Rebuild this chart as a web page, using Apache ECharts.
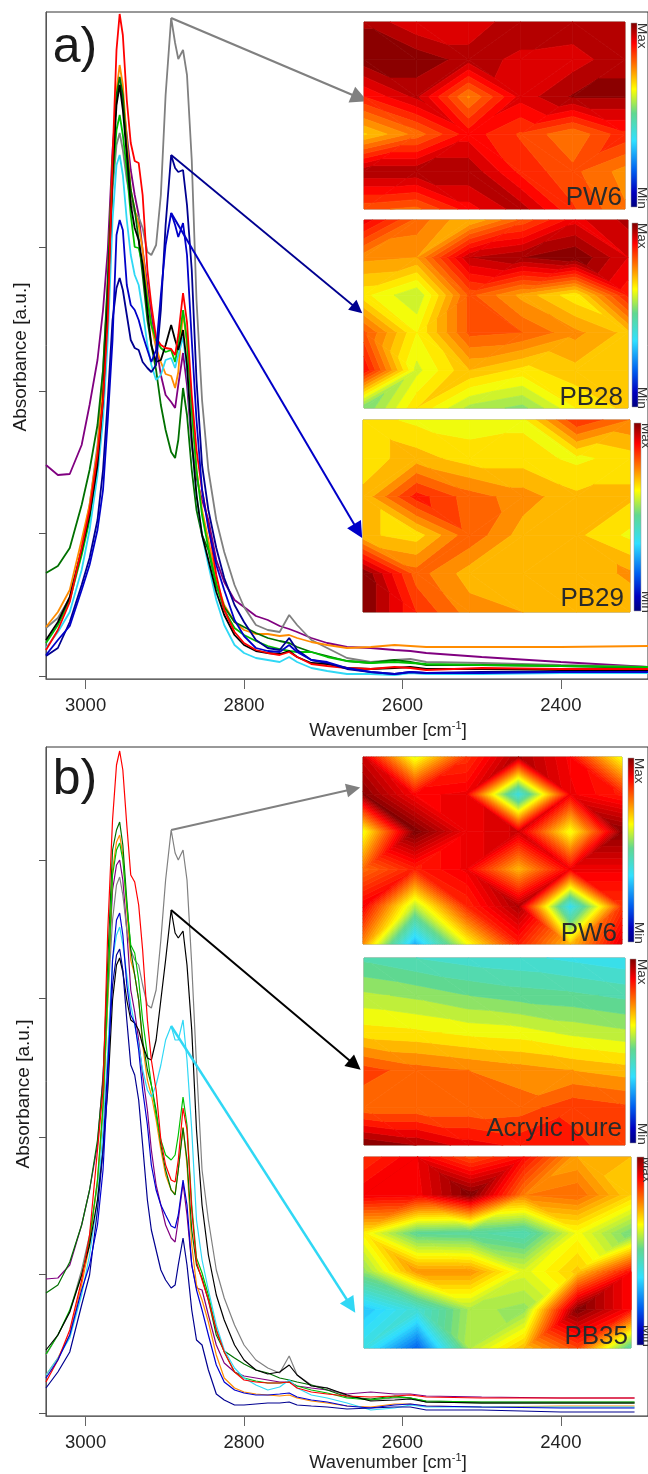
<!DOCTYPE html>
<html lang="en" style="height: 100%">

<head>
  <meta charset="utf-8" />
  <script src="https://cdn.jsdelivr.net/npm/echarts@6/dist/echarts.min.js"></script>
</head>

<body style="height: 100%; margin: 0; background: #fff">
  <div id="container" style="width: 648px; height: 1474px"></div>

  <script type="text/javascript">
    // wavenumbers [cm-1] the spectra were read at
    const wavenumbersA = [3050, 3035, 3020, 3005, 2995, 2985, 2978, 2972, 2966, 2961, 2957, 2953, 2948, 2943, 2938, 2933, 2928, 2922, 2917, 2911, 2905, 2899, 2892, 2887, 2883, 2877, 2872, 2866, 2860, 2853, 2845, 2835, 2825, 2812, 2800, 2785, 2770, 2755, 2743, 2733, 2715, 2695, 2670, 2640, 2610, 2590, 2570, 2500, 2400, 2290];
    const wavenumbersB = [3050, 3035, 3020, 3005, 2995, 2985, 2978, 2972, 2966, 2961, 2957, 2953, 2948, 2943, 2938, 2933, 2928, 2922, 2917, 2911, 2905, 2899, 2892, 2887, 2883, 2877, 2872, 2866, 2860, 2853, 2845, 2835, 2825, 2812, 2800, 2785, 2770, 2755, 2743, 2733, 2715, 2695, 2670, 2640, 2610, 2590, 2570, 2500, 2400, 2307];

    // panel a) absorbance, arbitrary units
    const redA = [26, 46, 74, 128, 166, 221, 276, 356, 516, 626, 662, 641, 576, 533, 515, 513, 481, 406, 371, 338, 331, 328, 327, 321, 341, 383, 354, 281, 226, 186, 151, 101, 66, 44, 33, 26, 23, 21, 24, 19, 12, 10, 8, 7, 9, 8, 6, 8, 7, 7];
    const orangeA = [49, 64, 86, 136, 171, 226, 296, 396, 516, 586, 611, 591, 536, 486, 466, 451, 426, 381, 351, 328, 314, 302, 300, 288, 304, 364, 331, 266, 206, 166, 136, 96, 71, 54, 46, 42, 42, 40, 41, 38, 34, 31, 28, 29, 31, 30, 29, 29, 29, 30];
    const darkGreenA = [103, 110, 128, 171, 206, 251, 306, 396, 516, 581, 599, 581, 526, 486, 466, 436, 401, 356, 331, 306, 271, 246, 224, 218, 236, 288, 261, 206, 166, 141, 126, 91, 69, 54, 49, 43, 38, 35, 33, 29, 24, 20, 15, 13, 16, 14, 11, 11, 10, 8];
    const purpleA = [211, 201, 202, 231, 271, 316, 366, 426, 526, 576, 591, 576, 541, 506, 481, 461, 426, 391, 361, 331, 301, 281, 274, 268, 291, 323, 291, 231, 198, 176, 156, 116, 94, 76, 69, 60, 56, 50, 47, 44, 38, 33, 29, 28, 26, 25, 23, 19, 14, 9];
    const greenA = [33, 51, 76, 121, 156, 211, 276, 376, 496, 546, 561, 541, 506, 461, 429, 428, 411, 376, 351, 336, 328, 324, 326, 314, 331, 366, 336, 266, 206, 161, 128, 91, 66, 48, 41, 35, 30, 27, 25, 24, 24, 19, 15, 13, 14, 13, 12, 11, 10, 9];
    const greyA = [48, 58, 78, 126, 171, 231, 306, 386, 486, 531, 543, 526, 496, 476, 463, 459, 448, 424, 421, 431, 481, 581, 658, 633, 617, 626, 601, 516, 376, 276, 206, 156, 124, 91, 69, 51, 46, 44, 61, 51, 36, 28, 18, 14, 16, 17, 14, 13, 11, 9];
    const cyanA = [28, 44, 64, 106, 146, 201, 256, 336, 456, 511, 521, 501, 456, 421, 401, 391, 366, 331, 311, 296, 301, 316, 318, 308, 321, 339, 306, 236, 181, 141, 111, 76, 51, 31, 23, 18, 16, 14, 19, 14, 8, 5, 2, 2, 1, 3, 2, 2, 3, 3];
    const blackA = [36, 54, 79, 126, 161, 211, 276, 376, 501, 571, 591, 566, 521, 471, 448, 436, 411, 366, 331, 314, 316, 331, 351, 336, 326, 346, 311, 236, 181, 141, 116, 84, 61, 41, 31, 25, 23, 22, 25, 19, 13, 12, 8, 7, 8, 9, 7, 7, 6, 6];
    const blueA = [21, 36, 50, 86, 111, 146, 186, 256, 336, 441, 456, 446, 391, 371, 366, 356, 341, 326, 314, 326, 381, 431, 463, 451, 439, 453, 421, 336, 256, 186, 148, 111, 86, 56, 40, 28, 25, 24, 31, 24, 16, 14, 8, 4, 2, 4, 3, 3, 4, 4];
    const navyA = [20, 28, 54, 91, 118, 156, 206, 276, 356, 388, 398, 386, 361, 336, 328, 326, 314, 308, 304, 311, 366, 451, 521, 508, 504, 506, 471, 406, 296, 211, 166, 128, 98, 71, 54, 36, 28, 26, 38, 26, 16, 13, 7, 4, 2, 4, 3, 4, 4, 4];

    // panel b)
    const redB = [31, 53, 83, 133, 178, 263, 323, 483, 593, 648, 662, 643, 588, 538, 531, 508, 463, 393, 353, 323, 273, 248, 233, 231, 253, 305, 283, 203, 151, 133, 113, 83, 61, 41, 33, 31, 30, 30, 31, 25, 21, 19, 17, 16, 17, 18, 16, 15, 15, 15];
    const darkGreenB = [120, 128, 151, 188, 223, 273, 333, 453, 563, 583, 591, 568, 513, 463, 438, 413, 373, 343, 328, 303, 268, 243, 223, 218, 243, 285, 253, 183, 148, 135, 113, 78, 62, 55, 49, 43, 40, 35, 33, 31, 28, 23, 16, 14, 17, 15, 11, 10, 10, 10];
    const orangeB = [38, 55, 78, 128, 168, 233, 303, 413, 543, 571, 578, 558, 503, 453, 438, 413, 368, 333, 318, 293, 263, 238, 223, 219, 243, 286, 248, 168, 128, 113, 91, 58, 35, 25, 21, 19, 18, 17, 18, 15, 12, 10, 7, 6, 9, 9, 7, 6, 7, 7];
    const greenB = [59, 78, 103, 138, 173, 233, 308, 423, 538, 563, 570, 553, 508, 468, 460, 433, 393, 358, 328, 298, 273, 258, 253, 258, 278, 316, 288, 208, 155, 140, 118, 83, 61, 41, 35, 32, 30, 30, 31, 27, 23, 20, 15, 13, 16, 15, 12, 11, 11, 11];
    const purpleB = [134, 135, 148, 188, 223, 268, 338, 428, 523, 548, 553, 533, 483, 423, 401, 373, 338, 303, 263, 228, 208, 188, 175, 171, 193, 230, 198, 148, 125, 123, 98, 68, 50, 41, 37, 35, 33, 31, 31, 27, 25, 23, 19, 21, 19, 19, 17, 16, 15, 15];
    const greyB = [58, 78, 101, 143, 178, 228, 303, 413, 493, 528, 536, 518, 483, 463, 453, 448, 428, 408, 405, 423, 473, 533, 583, 560, 553, 563, 533, 448, 348, 243, 193, 143, 115, 88, 68, 53, 45, 40, 57, 38, 28, 25, 17, 13, 15, 15, 12, 11, 11, 11];
    const blackB = [63, 78, 101, 138, 168, 213, 263, 323, 413, 448, 455, 441, 413, 393, 390, 383, 368, 355, 353, 373, 413, 453, 503, 480, 475, 482, 448, 383, 283, 208, 158, 118, 93, 68, 53, 43, 39, 41, 48, 38, 27, 25, 18, 12, 13, 14, 11, 10, 10, 10];
    const blueB = [35, 53, 78, 123, 148, 188, 243, 333, 453, 493, 500, 478, 428, 398, 390, 363, 323, 288, 248, 223, 208, 198, 187, 185, 198, 233, 208, 148, 123, 103, 78, 48, 31, 23, 20, 18, 18, 19, 20, 16, 13, 11, 7, 5, 8, 9, 7, 6, 5, 5];
    const cyanB = [38, 55, 75, 118, 158, 213, 283, 363, 453, 478, 486, 468, 438, 408, 388, 368, 343, 323, 316, 328, 348, 373, 387, 373, 373, 393, 353, 283, 193, 153, 123, 88, 63, 45, 35, 28, 23, 26, 33, 25, 18, 15, 10, 3, 5, 8, 6, 6, 6, 6];
    const navyB = [25, 41, 61, 108, 138, 203, 263, 348, 428, 458, 464, 443, 393, 348, 338, 313, 268, 213, 183, 163, 143, 133, 125, 128, 148, 175, 148, 103, 73, 68, 43, 19, 13, 8, 8, 9, 10, 10, 11, 8, 7, 6, 4, 5, 6, 6, 3, 3, 1, 1];

    const xTicks = [3000, 2800, 2600, 2400];
    const yTicksA = [0, 143, 285, 429];
    const yTicksB = [0, 139, 276, 415, 553];

    // arrows: [from wavenumber, from height, to wavenumber, to height]
    const arrowGreyA = [2892, 658, 2654, 578];
    const arrowNavyA = [2892, 521, 2657, 367];
    const arrowBlueA = [2892, 463, 2656, 145];
    const arrowGreyB = [2892, 583, 2662, 624];
    const arrowBlackB = [2892, 503, 2660, 348];
    const arrowCyanB = [2892, 387, 2665, 107];

    // mapped intensity at the 6 x 6 measuring points, 0 = Min, 100 = Max, top row first
    const mapPW6A = [
      [96, 90, 90, 96, 96, 96],
      [99, 99, 95, 92, 91, 96],
      [86, 94, 75, 91, 97, 97],
      [68, 77, 88, 82, 76, 85],
      [96, 96, 96, 85, 80, 74],
      [80, 78, 88, 95, 83, 76]
    ];
    const mapPB28 = [
      [90, 78, 70, 80, 90, 95],
      [74, 73, 94, 97, 100, 91],
      [65, 58, 80, 72, 65, 86],
      [80, 64, 80, 79, 74, 69],
      [88, 60, 70, 66, 69, 69],
      [52, 67, 57, 54, 64, 68]
    ];
    const mapPB29 = [
      [66, 63, 62, 63, 84, 76],
      [66, 70, 66, 66, 63, 66],
      [69, 86, 78, 74, 69, 69],
      [69, 66, 79, 70, 69, 63],
      [100, 78, 70, 69, 69, 73],
      [100, 84, 74, 72, 70, 69]
    ];
    const mapPW6B = [
      [93, 62, 84, 96, 89, 63],
      [99, 89, 90, 40, 90, 86],
      [63, 100, 90, 93, 63, 99],
      [78, 86, 90, 71, 90, 90],
      [90, 58, 85, 96, 38, 84],
      [75, 30, 63, 86, 70, 92]
    ];
    const mapAcrylic = [
      [47, 44, 42, 41, 39, 37],
      [57, 55, 52, 50, 49, 47],
      [66, 65, 63, 62, 59, 57],
      [82, 78, 76, 74, 72, 70],
      [77, 77, 77, 78, 83, 81],
      [100, 96, 90, 87, 85, 82]
    ];
    const mapPB35 = [
      [84, 90, 81, 88, 72, 70],
      [90, 89, 100, 76, 78, 68],
      [65, 50, 49, 46, 63, 52],
      [55, 74, 74, 61, 69, 88],
      [32, 42, 57, 55, 100, 88],
      [40, 20, 58, 70, 82, 48]
    ];

    const font = "Liberation Sans";
    const colorStops = [
      { offset: 0, color: "#7f0000" },
      { offset: 0.11, color: "#ff0000" },
      { offset: 0.24, color: "#ff8000" },
      { offset: 0.36, color: "#ffff00" },
      { offset: 0.49, color: "#60d890" },
      { offset: 0.64, color: "#30e0ff" },
      { offset: 0.8, color: "#0060f0" },
      { offset: 0.92, color: "#0000c0" },
      { offset: 1, color: "#00007f" },
    ];

    function mapColor(v) {
      var t = Math.max(0, Math.min(1, 1 - v / 100));
      for (var i = 1; i < colorStops.length; i++) {
        if (t <= colorStops[i].offset) {
          var a = colorStops[i - 1], b = colorStops[i];
          var k = (t - a.offset) / (b.offset - a.offset);
          return echarts.color.lerp(k, [a.color, b.color]);
        }
      }
      return colorStops[colorStops.length - 1].color;
    }

    // keep the part of a triangle/polygon (points are [col, row, value]) on one side of a level
    function clipLevel(poly, level, above) {
      var out = [];
      for (var i = 0; i < poly.length; i++) {
        var p = poly[i], q = poly[(i + 1) % poly.length];
        var pIn = above ? p[2] >= level : p[2] <= level;
        var qIn = above ? q[2] >= level : q[2] <= level;
        if (pIn) out.push(p);
        if (pIn !== qIn) {
          var k = (level - p[2]) / (q[2] - p[2]);
          out.push([p[0] + (q[0] - p[0]) * k, p[1] + (q[1] - p[1]) * k, level]);
        }
      }
      return out;
    }

    // lower is better: a diagonal along a ridge with little change along it
    function diagonalCost(p, q) {
      return Math.abs(p[2] - q[2]) - (p[2] + q[2]) * 0.25;
    }

    function renderCell(step) {
      return function (params, api) {
        var c = api.value(0), r = api.value(1);
        var a = [c, r, api.value(2)], b = [c + 1, r, api.value(3)];
        var d = [c, r + 1, api.value(4)], e = [c + 1, r + 1, api.value(5)];
        var tris = diagonalCost(a, e) < diagonalCost(b, d)
          ? [[a, b, e], [a, e, d]]
          : [[a, b, d], [b, e, d]];
        var children = [];
        tris.forEach(function (tri) {
          for (var hi = 100; hi > 0; hi -= step) {
            var lo = hi - step;
            var poly = clipLevel(clipLevel(tri, lo, true), hi, false);
            if (poly.length < 3) continue;
            var color = mapColor(lo + step * 0.7);
            children.push({
              type: "polygon",
              shape: { points: poly.map(function (p) { return api.coord([p[0], p[1]]); }) },
              style: { fill: color, stroke: color, lineWidth: 0.7 },
            });
          }
        });
        return { type: "group", children: children };
      };
    }

    var grids = [], xAxes = [], yAxes = [], series = [], graphics = [];

    function addPanel(top, height, yMax, yTicks, lines, xs, lineWidth) {
      var idx = grids.length;
      grids.push({ left: 46, top: top, width: 603, height: height, show: true, borderColor: "#333", borderWidth: 1 });
      xAxes.push({
        type: "value", gridIndex: idx, inverse: true, min: 2290, max: 3050,
        axisLine: { show: true, onZero: false, lineStyle: { color: "#666", width: 1.2 } },
        axisTick: { show: true, length: 10, customValues: xTicks, lineStyle: { color: "#666" } },
        axisLabel: {
          customValues: xTicks, formatter: function (v) { return String(v); },
          fontFamily: font, fontSize: 18.5, color: "#222", margin: 17,
        },
        splitLine: { show: false },
      });
      yAxes.push({
        type: "value", gridIndex: idx, min: -3, max: yMax,
        axisLine: { show: true, onZero: false, lineStyle: { color: "#555" } },
        axisTick: { show: true, length: 7, customValues: yTicks, lineStyle: { color: "#555" } },
        axisLabel: { show: false },
        splitLine: { show: false },
      });
      lines.forEach(function (l, i) {
        var s = {
          type: "line", xAxisIndex: idx, yAxisIndex: idx, showSymbol: false, silent: true,
          data: l.values.map(function (v, k) { return [xs[k], v]; }),
          lineStyle: { color: l.color, width: lineWidth }, z: 3 + i * 0.01,
          animation: false,
        };
        if (l.arrow) {
          s.markLine = {
            silent: true, animation: false, symbol: ["none", "triangle"], symbolSize: l.arrowSize,
            label: { show: false },
            lineStyle: { color: l.color, width: l.arrowWidth, type: "solid" },
            data: [[
              { coord: [l.arrow[0], l.arrow[1]] },
              { coord: [l.arrow[2], l.arrow[3]] },
            ]],
          };
        }
        series.push(s);
      });
    }

    function addMap(values, box, step, bar, label) {
      var idx = grids.length;
      grids.push({
        left: box[0], top: box[1], width: box[2] - box[0], height: box[3] - box[1],
        show: true, borderColor: "#8a8a78", borderWidth: 1,
      });
      xAxes.push({ type: "value", gridIndex: idx, min: 0, max: 5, show: false });
      yAxes.push({ type: "value", gridIndex: idx, min: 0, max: 5, inverse: true, show: false });
      var cells = [];
      for (var r = 0; r < 5; r++) {
        for (var c = 0; c < 5; c++) {
          cells.push([c, r, values[r][c], values[r][c + 1], values[r + 1][c], values[r + 1][c + 1]]);
        }
      }
      series.push({
        type: "custom", xAxisIndex: idx, yAxisIndex: idx, silent: true, animation: false, z: 5,
        renderItem: renderCell(step), data: cells,
        encode: { x: 0, y: 1 }, clip: false,
      });
      graphics.push({
        type: "rect", z: 50, silent: true,
        shape: { x: bar[0], y: bar[1], width: bar[2] - bar[0], height: bar[3] - bar[1] },
        style: { fill: { type: "linear", x: 0, y: 0, x2: 0, y2: 1, colorStops: colorStops }, stroke: "#999", lineWidth: 0.5 },
      });
      [["Max", bar[1]], ["Min", bar[3] - 20]].forEach(function (t) {
        graphics.push({
          type: "text", z: 50, silent: true, x: bar[4], y: t[1], rotation: -Math.PI / 2,
          style: { text: t[0], fontFamily: font, fontSize: 13.5, fill: "#333", textAlign: "left", textVerticalAlign: "middle" },
        });
      });
      graphics.push({
        type: "text", z: 50, silent: true, x: label[1], y: label[2],
        style: { text: label[0], fontFamily: font, fontSize: 26, fill: "#2a2a2a", textAlign: "right", textVerticalAlign: "bottom" },
      });
    }

    function addText(text, x, y, size, rotation) {
      graphics.push({
        type: "text", z: 50, silent: true, x: x, y: y, rotation: rotation || 0,
        style: { text: text, fontFamily: font, fontSize: size, fill: "#1a1a1a", textAlign: "center", textVerticalAlign: "middle" },
      });
    }

    function addXName(y) {
      graphics.push({
        type: "text", z: 50, silent: true, x: 388, y: y,
        style: {
          text: "{t|Wavenumber [cm}{s|-1}{t|]}", textAlign: "center", textVerticalAlign: "middle",
          rich: {
            t: { fontFamily: font, fontSize: 18.3, fill: "#222", lineHeight: 22 },
            s: { fontFamily: font, fontSize: 11, fill: "#222", verticalAlign: "top", lineHeight: 22 },
          },
        },
      });
    }

    addPanel(12, 667, 664, yTicksA, [
      { values: purpleA, color: "#800080" },
      { values: greyA, color: "#808080", arrow: arrowGreyA, arrowWidth: 2.2, arrowSize: 17 },
      { values: orangeA, color: "#ff8c00" },
      { values: darkGreenA, color: "#007000" },
      { values: greenA, color: "#00c000" },
      { values: cyanA, color: "#30d8f5" },
      { values: blackA, color: "#000000" },
      { values: redA, color: "#ff0000" },
      { values: navyA, color: "#000090", arrow: arrowNavyA, arrowWidth: 1.8, arrowSize: 13 },
      { values: blueA, color: "#0000c8", arrow: arrowBlueA, arrowWidth: 2, arrowSize: 16 },
    ], wavenumbersA, 1.8);

    addPanel(747, 669, 666, yTicksB, [
      { values: purpleB, color: "#800080" },
      { values: greyB, color: "#808080", arrow: arrowGreyB, arrowWidth: 1.8, arrowSize: 14 },
      { values: orangeB, color: "#ff8c00" },
      { values: darkGreenB, color: "#007000" },
      { values: greenB, color: "#00c000" },
      { values: cyanB, color: "#30d8f5", arrow: arrowCyanB, arrowWidth: 2.4, arrowSize: 16 },
      { values: blackB, color: "#000000", arrow: arrowBlackB, arrowWidth: 2, arrowSize: 15 },
      { values: redB, color: "#ff0000" },
      { values: navyB, color: "#000090" },
      { values: blueB, color: "#0000d0" },
    ], wavenumbersB, 1.2);

    addMap(mapPW6A, [364, 22, 625, 209], 3.5, [631, 23, 637, 207, 642], ["PW6", 622, 211]);
    addMap(mapPB28, [364, 220, 628, 408], 3, [632, 223, 638, 407, 642], ["PB28", 623, 411]);
    addMap(mapPB29, [363, 420, 630, 612], 4, [634, 423, 641, 611, 646], ["PB29", 624, 612]);
    addMap(mapPW6B, [363, 757, 622, 944], 1.5, [628, 758, 634, 942, 639], ["PW6", 617, 947]);
    addMap(mapAcrylic, [364, 958, 625, 1145], 4, [630, 959, 636, 1143, 642], ["Acrylic pure", 622, 1142]);
    addMap(mapPB35, [364, 1157, 631, 1348], 2, [637, 1157, 644, 1345, 647], ["PB35", 628, 1350]);

    addText("a)", 75, 48, 50);
    addText("b)", 75, 780, 50);
    addText("Absorbance [a.u.]", 21, 357, 19, Math.PI / 2);
    addText("Absorbance [a.u.]", 24, 1094, 19, Math.PI / 2);
    addXName(731);
    addXName(1463);

    var myChart = echarts.init(document.getElementById("container"), null, { renderer: "canvas" });
    myChart.setOption({
      animation: false,
      backgroundColor: "#fff",
      grid: grids,
      xAxis: xAxes,
      yAxis: yAxes,
      series: series,
      graphic: { elements: graphics },
    });
  </script>
</body>

</html>
